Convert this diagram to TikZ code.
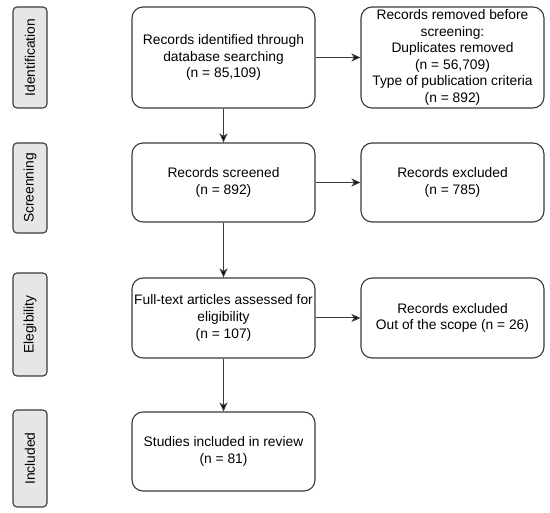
\documentclass[tikz,border=0pt]{standalone}
\usepackage{fontspec}
\setmainfont{Liberation Sans}
\usetikzlibrary{arrows.meta}
\definecolor{line-gray}{HTML}{3A3A3A}
\definecolor{phase-bg}{HTML}{E6E6E6}

\tikzset{
  flowbox/.style={draw=line-gray, line width=1.1pt, fill=white,
    rounded corners=11pt, minimum width=183pt, inner sep=2pt, align=center},
  phasebox/.style={draw=line-gray, line width=1.1pt, fill=phase-bg,
    rounded corners=4pt, rotate=90, minimum height=34pt, inner sep=2pt},
  flowarrow/.style={draw=line-gray, line width=1pt,
    -{Stealth[length=9pt, width=8pt, inset=2.5pt, fill=black]}}
}

\begin{document}
\begin{tikzpicture}[x=1pt, y=-1pt,
          every node/.style={font=\fontsize{13.8}{16.6}\selectfont}]
      \useasboundingbox (0,0) rectangle (550,513);
      % phases
      \node[phasebox, minimum width=101pt] (Ident) at (30,57.5) {Identification};
      \node[phasebox, minimum width=90pt] (Screen) at (30,188) {Screenning};
      \node[phasebox, minimum width=103pt] (Elig) at (30,324.5) {Elegibility};
      \node[phasebox, minimum width=97pt] (Incl) at (30,458.5) {Included};
      % main column
      \node[flowbox, minimum height=101pt] (Found) at (223.5,57.5)
            {Records identified through\\database searching\\(n = 85,109)};
      \node[flowbox, minimum height=79pt] (Screened) at (223.5,182.5)
            {Records screened\\(n = 892)};
      \node[flowbox, minimum height=80pt] (FullText) at (223.5,318)
            {Full-text articles assessed for\\eligibility\\(n = 107)};
      \node[flowbox, minimum height=79pt] (Studies) at (223.5,451.5)
            {Studies included in review\\(n = 81)};
      % right column
      \node[flowbox, minimum height=101pt, inner ysep=0pt] (Removed) at (452.5,57.5)
            {Records removed before\\screening:\\Duplicates removed\\(n = 56,709)\\Type of publication criteria\\(n = 892)};
      \node[flowbox, minimum height=79pt] (Excl) at (452.5,182.5)
            {Records excluded\\(n = 785)};
      \node[flowbox, minimum height=80pt] (Scope) at (452.5,318)
            {Records excluded\\Out of the scope (n = 26)};
      \draw[flowarrow] (Found) -- (Screened);
      \draw[flowarrow] (Screened) -- (FullText);
      \draw[flowarrow] (FullText) -- (Studies);
      \draw[flowarrow] (Found) -- (Removed);
      \draw[flowarrow] (Screened) -- (Excl);
      \draw[flowarrow] (FullText) -- (Scope);
    \end{tikzpicture}
\end{document}
